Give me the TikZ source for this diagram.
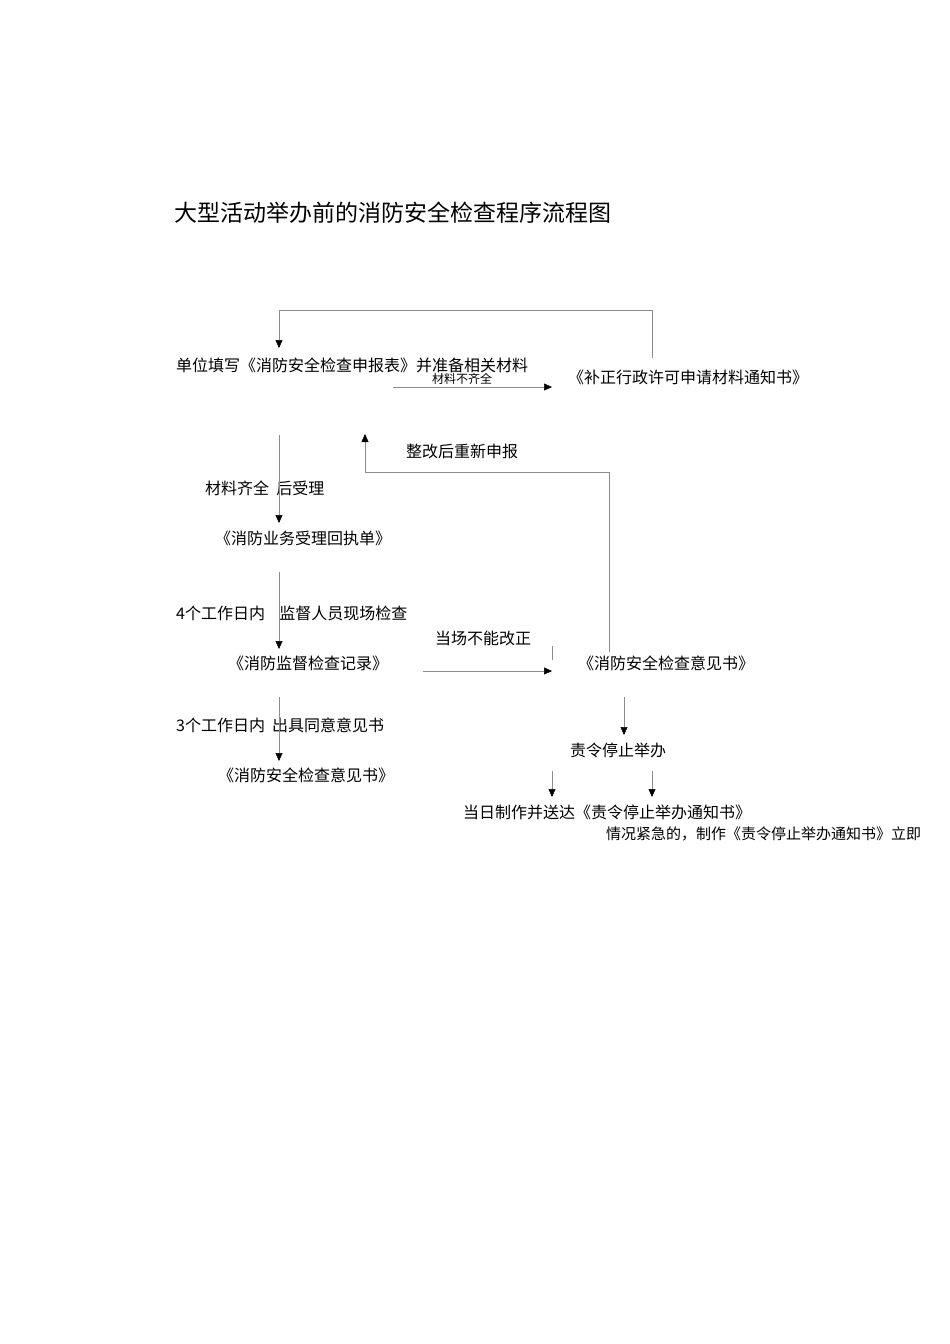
\documentclass[tikz,border=0pt]{standalone}
\usepackage{fontspec}
\setmainfont{Noto Sans CJK SC}
\usetikzlibrary{arrows.meta}
\begin{document}
\begin{tikzpicture}[x=1pt,y=-1pt,
  t/.style={anchor=west,inner sep=0pt,font=\fontsize{16}{16}\selectfont},
  ln/.style={draw=black!45,line width=0.5pt},
  ar/.style={ln,-{Triangle[length=8pt,width=7pt,black]}}]
\useasboundingbox (0,0) rectangle (950,1344);
\node[t,font=\fontsize{23}{23}\selectfont] (title) at (174,213) {大型活动举办前的消防安全检查程序流程图};
\node[t] (n1) at (176,365) {单位填写《消防安全检查申报表》并准备相关材料};
\node[t,font=\fontsize{12}{12}\selectfont] (l1) at (432,379) {材料不齐全};
\node[t] (n2) at (568,377) {《补正行政许可申请材料通知书》};
\node[t] (l2) at (205,488) {材料齐全\ \ 后受理};
\node[t] (n3) at (215,538) {《消防业务受理回执单》};
\node[t] (l3) at (176,613) {4个工作日内\ \ \ \ 监督人员现场检查};
\node[t] (n4) at (228,663) {《消防监督检查记录》};
\node[t] (l4) at (435,638) {当场不能改正};
\node[t] (n5) at (578,663) {《消防安全检查意见书》};
\node[t] (l5) at (406,451) {整改后重新申报};
\node[t] (l6) at (176,725) {3个工作日内\ \ 出具同意意见书};
\node[t] (n6) at (218,775) {《消防安全检查意见书》};
\node[t] (n7) at (570,750) {责令停止举办};
\node[t] (n8) at (463,812) {当日制作并送达《责令停止举办通知书》};
\node[t,font=\fontsize{15}{15}\selectfont] (n9) at (606,834) {情况紧急的，制作《责令停止举办通知书》立即};
\coordinate (a0) at (652,358); \coordinate (a1) at (279,348);
\draw[ar] (a0) -- (652,310) -- (279,310) -- (a1);
\coordinate (b0) at (393,387); \coordinate (b1) at (552,387);
\draw[ar] (b0) -- (b1);
\coordinate (c0) at (279,435); \coordinate (c1) at (279,523);
\draw[ar] (c0) -- (c1);
\coordinate (d0) at (279,572); \coordinate (d1) at (279,649);
\draw[ar] (d0) -- (d1);
\draw[ln] (552,646) -- (552,660);
\coordinate (e0) at (423,671); \coordinate (e1) at (552,671);
\draw[ar] (e0) -- (e1);
\coordinate (f0) at (609,652); \coordinate (f1) at (365,434);
\draw[ar] (f0) -- (609,472) -- (365,472) -- (f1);
\coordinate (g0) at (279,697); \coordinate (g1) at (279,761);
\draw[ar] (g0) -- (g1);
\coordinate (h0) at (624,697); \coordinate (h1) at (624,735);
\draw[ar] (h0) -- (h1);
\coordinate (i0) at (552,771); \coordinate (i1) at (552,797);
\draw[ar] (i0) -- (i1);
\coordinate (j0) at (652,771); \coordinate (j1) at (652,797);
\draw[ar] (j0) -- (j1);
\end{tikzpicture}
\end{document}
